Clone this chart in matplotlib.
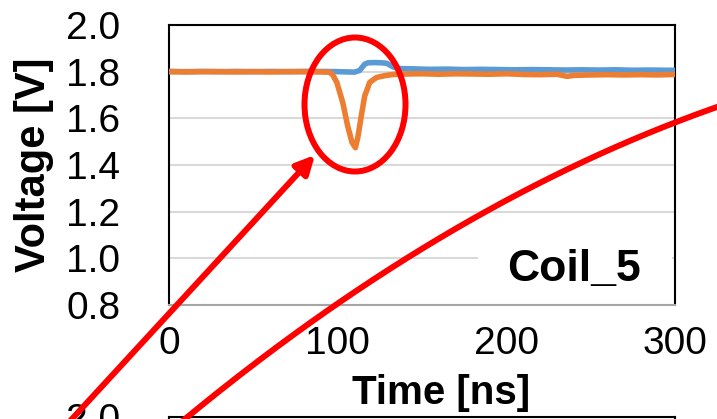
import numpy as np
import matplotlib.pyplot as plt
from matplotlib.patches import Ellipse, Rectangle

plt.rcParams['font.family'] = ['Liberation Sans', 'DejaVu Sans']

# Coil_5 traces
t_blue = [0, 10, 20, 30, 40, 50, 60, 70, 80, 90, 100, 105, 110, 113, 116, 118,
          122, 126, 129, 133, 137, 145, 155, 165, 175, 185, 195, 205, 215, 225,
          235, 245, 255, 265, 275, 285, 295, 300]
v_blue = [1.801, 1.800, 1.801, 1.800, 1.801, 1.800, 1.801, 1.800, 1.801, 1.801,
          1.800, 1.799, 1.798, 1.805, 1.832, 1.838, 1.839, 1.838, 1.836, 1.820,
          1.813, 1.812, 1.810, 1.811, 1.809, 1.810, 1.809, 1.808, 1.809, 1.808,
          1.807, 1.808, 1.807, 1.808, 1.806, 1.807, 1.806, 1.806]

t_orange = [0, 10, 20, 30, 40, 50, 60, 70, 80, 90, 95, 97, 99.5, 103, 106, 108.5,
            110.5, 112, 114, 116, 119, 123, 128, 133, 140, 150, 160, 170, 180,
            190, 200, 210, 220, 230, 236, 240, 250, 260, 270, 280, 290, 300]
v_orange = [1.800, 1.799, 1.800, 1.800, 1.799, 1.800, 1.799, 1.800, 1.800, 1.799,
            1.798, 1.787, 1.754, 1.668, 1.565, 1.497, 1.474, 1.520, 1.610, 1.695,
            1.754, 1.775, 1.783, 1.788, 1.790, 1.791, 1.789, 1.791, 1.790, 1.789,
            1.791, 1.788, 1.787, 1.789, 1.780, 1.784, 1.786, 1.787, 1.786, 1.787,
            1.786, 1.788]

x_ticks = [0, 100, 200, 300]
y_ticks = [0.8, 1.0, 1.2, 1.4, 1.6, 1.8, 2.0]

W, H = 717, 419
fig = plt.figure(figsize=(W / 100, H / 100), dpi=100)


def style_axes(ax):
    ax.set_xlim(0, 300)
    ax.set_ylim(0.8, 2.0)
    ax.set_xticks(x_ticks)
    ax.set_yticks(y_ticks)
    ax.set_yticklabels([f'{v:.1f}' for v in y_ticks])
    ax.grid(axis='y', color='#d9d9d9', linewidth=1.5)
    for s in ['left', 'top', 'right']:
        ax.spines[s].set_color('black')
        ax.spines[s].set_linewidth(1.5)
    ax.spines['bottom'].set_color('#a6a6a6')
    ax.spines['bottom'].set_linewidth(1.5)
    ax.tick_params(axis='both', length=0, labelsize=28)
    ax.tick_params(axis='y', pad=35)
    ax.tick_params(axis='x', pad=15)


# main panel (pixel box: x 169-675, y 25-305)
ax = fig.add_axes([169 / W, 1 - 305 / H, 506 / W, 280 / H])
style_axes(ax)
ax.plot(t_blue, v_blue, color='#5b9bd5', linewidth=4, zorder=3)
ax.plot(t_orange, v_orange, color='#ed7d31', linewidth=4, zorder=4)
ax.set_ylabel('Voltage [V]', fontsize=30, fontweight='bold')
ax.yaxis.set_label_coords(-0.228, 0.5)
ax.set_xlabel('Time [ns]', fontsize=29, fontweight='bold')
ax.xaxis.set_label_coords(0.5375, -0.245)

# white box behind the panel label
ax.add_patch(Rectangle((0.611, 0.04), 0.383, 0.2, transform=ax.transAxes,
                       facecolor='white', edgecolor='none', zorder=2))
ax.text(0.80, 0.125, 'Coil_5', transform=ax.transAxes, fontsize=32,
        fontweight='bold', ha='center', va='center', zorder=5)

# next panel below, mostly cut off by the figure edge (only its top shows)
ax2 = fig.add_axes([169 / W, 1 - 417 / H - 280 / H, 506 / W, 280 / H])
style_axes(ax2)
ax2.set_xticklabels([])
ax2.set_yticklabels(['' if v < 2.0 else f'{v:.1f}' for v in y_ticks])

# red call-outs drawn in pixel coordinates
ov = fig.add_axes([0, 0, 1, 1])
ov.set_xlim(0, W)
ov.set_ylim(H, 0)
ov.axis('off')
ov.patch.set_alpha(0)

ov.add_patch(Ellipse((355, 104.5), 101, 134, fill=False, edgecolor='red',
                     linewidth=4.3))
ov.annotate('', xy=(315, 155), xytext=(25, 470),
            arrowprops=dict(arrowstyle='-|>,head_length=1.1,head_width=0.55',
                            color='red', linewidth=4.3, shrinkA=0, shrinkB=0),
            annotation_clip=False)

p0 = np.array([185, 419])
p1 = np.array([449, 201])
p2 = np.array([717, 107])
tt = np.linspace(-0.15, 1.05, 200)[:, None]
curve = (1 - tt) ** 2 * p0 + 2 * tt * (1 - tt) * p1 + tt ** 2 * p2
ov.plot(curve[:, 0], curve[:, 1], color='red', linewidth=4.3, clip_on=False)

fig.savefig('out.png', dpi=100)
